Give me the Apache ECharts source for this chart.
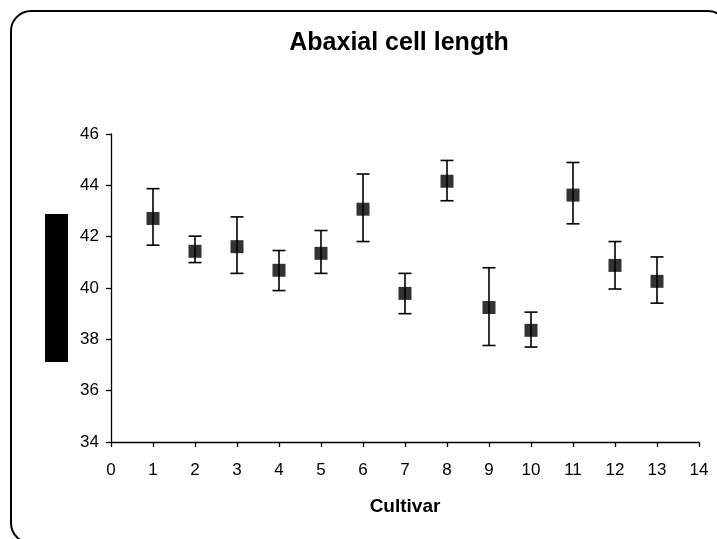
<!DOCTYPE html>
<html>
<head>
<meta charset="utf-8">
<script src="https://cdn.jsdelivr.net/npm/echarts@6/dist/echarts.min.js"></script>
<style>html,body{margin:0;padding:0;background:#fff;}#c{width:717px;height:539px;}</style>
</head>
<body>
<div id="c"></div>
<script>
const cultivars = [1,2,3,4,5,6,7,8,9,10,11,12,13];
const means = [42.71,41.43,41.61,40.69,41.35,43.07,39.79,44.16,39.24,38.35,43.62,40.88,40.26];
const upper = [43.87,42.02,42.77,41.46,42.24,44.44,40.57,44.97,40.79,39.06,44.89,41.81,41.21];
const lower = [41.67,40.99,40.57,39.90,40.57,41.81,39.00,43.40,37.76,37.70,42.50,39.96,39.41];
const xTicks = [0,1,2,3,4,5,6,7,8,9,10,11,12,13,14];
const yTicks = [34,36,38,40,42,44,46];

const font = 'Liberation Sans, Arial, sans-serif';
const pts = cultivars.map((c,i)=>[c, means[i]]);
const bars = cultivars.map((c,i)=>[c, lower[i], upper[i]]);

const chart = echarts.init(document.getElementById('c'), null, {renderer:'canvas'});
chart.setOption({
  animation:false,
  backgroundColor:'#fff',
  title:{
    text:'Abaxial cell length',
    left:394, top:26, textAlign:'center',
    textStyle:{fontFamily:font, fontWeight:'bold', fontSize:25, color:'#000'}
  },
  grid:{left:111, right:18, top:134, bottom:97},
  xAxis:{
    type:'value', min:xTicks[0], max:xTicks[xTicks.length-1], interval:1,
    name:'Cultivar', nameLocation:'middle', nameGap:55,
    nameTextStyle:{fontFamily:font, fontWeight:'bold', fontSize:19, color:'#000'},
    axisLine:{show:true, onZero:false, lineStyle:{color:'#000', width:1.3}},
    axisTick:{show:true, inside:false, length:5, lineStyle:{color:'#000', width:1.3}},
    axisLabel:{margin:20, fontFamily:font, fontSize:17, color:'#000'},
    splitLine:{show:false}
  },
  yAxis:{
    type:'value', min:yTicks[0], max:yTicks[yTicks.length-1], interval:2,
    axisLine:{show:true, onZero:false, lineStyle:{color:'#000', width:1.3}},
    axisTick:{show:true, inside:false, length:5, lineStyle:{color:'#000', width:1.3}},
    axisLabel:{margin:12, fontFamily:font, fontSize:17, color:'#000'},
    splitLine:{show:false}
  },
  series:[
    {
      type:'custom',
      data:bars,
      z:2,
      renderItem:function(params, api){
        const x = api.value(0);
        const lo = api.coord([x, api.value(1)]);
        const hi = api.coord([x, api.value(2)]);
        const hw = 6.5;
        const st = {stroke:'#000', lineWidth:1.6};
        return {type:'group', children:[
          {type:'line', shape:{x1:lo[0], y1:lo[1], x2:hi[0], y2:hi[1]}, style:st},
          {type:'line', shape:{x1:lo[0]-hw, y1:lo[1], x2:lo[0]+hw, y2:lo[1]}, style:st},
          {type:'line', shape:{x1:hi[0]-hw, y1:hi[1], x2:hi[0]+hw, y2:hi[1]}, style:st}
        ]};
      }
    },
    {
      type:'scatter',
      data:pts,
      symbol:'rect',
      symbolSize:13,
      z:3,
      itemStyle:{color:'#000'}
    }
  ],
  graphic:[
    {type:'rect', shape:{x:11, y:11, width:717, height:532, r:20}, style:{fill:'none', stroke:'#000', lineWidth:2}, z:10},
    {type:'rect', shape:{x:45, y:214, width:23, height:148}, style:{fill:'#000'}, z:10}
  ]
});
</script>
</body>
</html>
